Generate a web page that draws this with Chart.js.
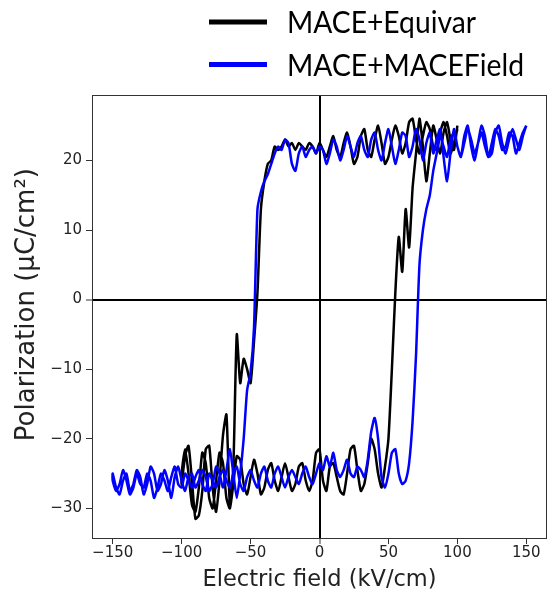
<!DOCTYPE html>
<html>
<head>
<meta charset="utf-8">
<script src="https://cdn.jsdelivr.net/npm/chart.js@4"></script>
<style>
  html, body { margin: 0; padding: 0; background: #fff; }
  #wrap { width: 548px; height: 596px; position: relative; }
</style>
</head>
<body>
<div id="wrap"><canvas id="myChart"></canvas></div>
<script>
// Data

const fieldBlue = [
  -150, -147.5, -145, -142.5, -140, -137.5, -135, -132.5, -130, -127.5,
  -125, -122.5, -120, -117.5, -115, -112.5, -110, -107.5, -105, -102.5,
  -100, -97.5, -95, -92.5, -90, -87.5, -85, -82.5, -80, -77.5,
  -75, -72.5, -70, -67.5, -65, -62.5, -60, -57.5, -55, -52.5,
  -50, -47.5, -45, -42.5, -40, -37.5, -35, -32.5, -30, -27.5,
  -25, -22.5, -20, -17.5, -15, -12.5, -10, -7.5, -5, -2.5,
  0, 2.5, 5, 7.5, 10, 12.5, 15, 17.5, 20, 22.5,
  25, 27.5, 30, 32.5, 35, 37.5, 40, 42.5, 45, 47.5,
  50, 52.5, 55, 57.5, 60, 62.5, 65, 67.5, 70, 72.5,
  75, 77.5, 80, 82.5, 85, 87.5, 90, 92.5, 95, 97.5,
  100, 102.5, 105, 107.5, 110, 112.5, 115, 117.5, 120, 122.5,
  125, 127.5, 130, 132.5, 135, 137.5, 140, 142.5, 145, 147.5,
  150,
];

const fieldBlack = [
  -100, -97.5, -95, -92.5, -90, -87.5, -85, -82.5, -80, -77.5,
  -75, -72.5, -70, -67.5, -65, -62.5, -60, -57.5, -55, -52.5,
  -50, -47.5, -45, -42.5, -40, -37.5, -35, -32.5, -30, -27.5,
  -25, -22.5, -20, -17.5, -15, -12.5, -10, -7.5, -5, -2.5,
  0, 2.5, 5, 7.5, 10, 12.5, 15, 17.5, 20, 22.5,
  25, 27.5, 30, 32.5, 35, 37.5, 40, 42.5, 45, 47.5,
  50, 52.5, 55, 57.5, 60, 62.5, 65, 67.5, 70, 72.5,
  75, 77.5, 80, 82.5, 85, 87.5, 90, 92.5, 95, 97.5,
  100,
];

// MACE+MACEField, field going up (-150 -> 150)
const blueUp = [
  -26.0, -27.5, -26.5, -24.5, -26.0, -28.0, -27.0, -25.0, -26.5, -27.0,
  -25.0, -26.0, -28.5, -27.0, -25.0, -26.0, -27.5, -25.5, -24.0, -26.5,
  -27.0, -25.0, -26.0, -27.0, -25.5, -24.5, -26.5, -27.5, -25.0, -26.0,
  -27.0, -25.5, -24.5, -26.0, -27.0, -25.0, -24.0, -26.5, -27.5, -25.5,
  -24.5, -26.0, -27.0, -25.0, -24.0, -26.0, -27.0, -25.0, -24.0, -25.5,
  -27.0, -25.5, -24.5, -25.5, -26.5, -25.0, -24.0, -25.5, -26.5, -25.0,
  -23.5, -24.5, -22.5, -24.0, -22.0, -24.5, -25.5, -24.5, -23.0, -25.0,
  -25.5, -24.0, -24.5, -25.5, -23.0, -19.0, -17.0, -20.0, -25.5, -27.0,
  -25.0, -22.0, -21.5, -25.0, -26.5, -26.0, -23.5, -17.5, -8.0, 5.0,
  10.0, 13.0, 15.0, 18.5, 21.0, 23.5, 22.0, 20.5, 23.0, 24.0,
  22.0, 20.5, 22.5, 24.5, 23.0, 21.0, 22.5, 24.0, 22.0, 20.5,
  22.5, 24.5, 23.5, 21.5, 22.0, 24.0, 23.5, 21.0, 22.5, 24.0,
  25.0,
];

// MACE+MACEField, field going down (150 -> -150)
const blueDown = [
  25.0, 23.5, 21.5, 23.0, 24.5, 23.0, 21.0, 22.5, 25.0, 24.0,
  21.0, 20.5, 23.5, 25.0, 22.5, 20.0, 22.0, 25.0, 23.5, 20.5,
  22.0, 24.5, 21.0, 17.0, 20.5, 24.5, 23.0, 21.0, 24.0, 22.5,
  20.0, 23.0, 24.5, 22.0, 20.5, 23.5, 24.0, 21.5, 19.5, 22.0,
  24.5, 22.5, 20.0, 21.5, 24.0, 23.0, 20.5, 21.5, 23.5, 22.5,
  20.5, 22.0, 23.5, 21.5, 20.0, 22.0, 23.0, 21.0, 19.5, 21.5,
  22.0, 21.0, 22.0, 21.5, 20.5, 22.0, 21.0, 18.5, 19.5, 22.5,
  23.0, 21.5, 22.0, 21.0, 19.5, 18.0, 17.0, 15.5, 13.0, -4.0,
  -10.5, -13.0, -20.0, -25.0, -28.5, -25.0, -21.5, -24.5, -27.0, -25.0,
  -24.0, -26.5, -27.5, -25.5, -24.5, -26.0, -27.0, -25.0, -25.5, -27.5,
  -26.0, -24.0, -25.5, -28.5, -26.0, -24.5, -26.5, -27.5, -25.0, -24.0,
  -26.5, -28.0, -25.5, -24.5, -26.5, -27.5, -25.0, -26.0, -28.0, -27.0,
  -25.0,
];

// MACE+Equivar, field going up (-100 -> 100)
const blackUp = [
  -25.0, -21.5, -25.0, -29.5, -30.5, -27.0, -22.0, -23.5, -28.5, -30.0,
  -26.0, -22.0, -23.5, -28.5, -30.0, -26.5, -22.5, -23.0, -26.5, -28.0,
  -25.5, -23.0, -25.0, -28.0, -27.0, -24.5, -23.5, -26.0, -27.5, -25.5,
  -23.5, -25.5, -27.5, -26.5, -24.0, -23.5, -26.0, -27.5, -26.0, -22.0,
  -21.5, -26.0, -27.5, -24.0, -23.5, -25.5, -27.5, -28.0, -25.0, -21.5,
  -21.0, -24.5, -27.5, -26.5, -23.5, -20.0, -21.5, -25.0, -27.0, -24.0,
  -20.0, -10.0, 1.0, 9.0, 4.0, 13.0, 7.5, 16.0, 21.0, 26.0,
  22.0, 17.0, 21.0, 25.0, 23.0, 21.0, 24.0, 25.5, 23.0, 21.5,
  25.0,
];

// MACE+Equivar, field going down (100 -> -100)
const blackDown = [
  24.5, 22.5, 21.0, 23.5, 25.5, 24.0, 21.5, 22.0, 24.5, 25.5,
  23.5, 21.0, 23.0, 26.0, 25.5, 22.5, 21.0, 23.5, 25.0, 23.0,
  20.5, 19.5, 22.5, 25.0, 23.0, 20.5, 21.5, 24.5, 23.5, 20.5,
  19.5, 22.0, 24.0, 22.5, 20.5, 21.5, 23.5, 22.0, 20.5, 21.5,
  22.5, 21.0, 22.0, 22.5, 21.5, 22.0, 22.5, 21.5, 22.5, 22.0,
  23.0, 22.0, 21.5, 22.0, 20.0, 19.5, 17.0, 13.0, 1.0, -6.0,
  -12.0, -10.0, -8.5, -12.0, -5.0, -24.0, -29.5, -16.5, -19.5, -26.0,
  -30.5, -27.0, -21.0, -21.5, -27.5, -31.0, -31.5, -26.0, -21.0, -22.5,
  -26.5,
];

const xTicks = [-150, -100, -50, 0, 50, 100, 150];
const yTicks = [-30, -20, -10, 0, 10, 20];

const seriesLabels = ["MACE+Equivar", "MACE+MACEField"];
const seriesColors = ["#000000", "#0000ff"];

// Build the loop: down branch then up branch
function loop(field, down, up) {
  const pts = [];
  const rev = field.slice().reverse();
  for (let i = 0; i < rev.length; i++) pts.push({ x: rev[i], y: down[i] });
  for (let i = 0; i < field.length; i++) pts.push({ x: field[i], y: up[i] });
  return pts;
}

// Plugins

const frame = {
  id: "frame",
  afterDatasetsDraw(chart) {
    const a = chart.chartArea;
    const ctx = chart.ctx;
    ctx.save();
    ctx.strokeStyle = "#333";
    ctx.lineWidth = 1;
    ctx.strokeRect(a.left + 0.5, a.top + 0.5, a.right - a.left - 1, a.bottom - a.top - 1);
    ctx.restore();
  },
};

const legendWidths = [189, 237];

const topLegend = {
  id: "topLegend",
  afterDraw(chart) {
    const ctx = chart.ctx;
    ctx.save();
    chart.data.datasets.forEach((ds, i) => {
      const y = 22 + i * 42.5;
      ctx.strokeStyle = ds.borderColor;
      ctx.lineWidth = 5;
      ctx.beginPath();
      ctx.moveTo(209, y);
      ctx.lineTo(267, y);
      ctx.stroke();
      ctx.fillStyle = "#000";
      ctx.font = "31px Lato";
      ctx.textBaseline = "alphabetic";
      ctx.fillText(ds.label, 287, y + 11, legendWidths[i]);
    });
    ctx.restore();
  },
};

const minus = (v) => String(v).replace("-", "\u2212");

new Chart(document.getElementById("myChart"), {
  type: "scatter",
  data: {
    datasets: [
      {
        label: seriesLabels[0],
        data: loop(fieldBlack, blackDown, blackUp),
        borderColor: seriesColors[0],
        backgroundColor: seriesColors[0],
        borderWidth: 2.5,
        tension: 0.2,
        showLine: true,
        pointRadius: 0,
        order: 1,
      },
      {
        label: seriesLabels[1],
        data: loop(fieldBlue, blueDown, blueUp),
        borderColor: seriesColors[1],
        backgroundColor: seriesColors[1],
        borderWidth: 2.5,
        tension: 0.2,
        showLine: true,
        pointRadius: 0,
        order: 0,
      },
    ],
  },
  options: {
    responsive: true,
    maintainAspectRatio: false,
    animation: false,
    layout: { padding: { top: 95, right: 1, left: 0, bottom: 0 } },
    plugins: { legend: { display: false }, tooltip: { enabled: false } },
    scales: {
      x: {
        type: "linear",
        min: -165,
        max: 165,
        afterFit: (s) => { s.height = 57; },
        afterBuildTicks: (s) => { s.ticks = xTicks.map((v) => ({ value: v })); },
        border: { display: false },
        grid: {
          color: (c) => (c.tick && c.tick.value === 0 ? "#000" : "rgba(0,0,0,0)"),
          lineWidth: (c) => (c.tick && c.tick.value === 0 ? 2 : 1),
          tickColor: "#333",
          tickWidth: 1,
          tickLength: 5,
        },
        ticks: {
          padding: 0,
          color: "#222",
          font: { family: "DejaVu Sans", size: 15 },
          callback: minus,
        },
        title: {
          display: true,
          text: "Electric field (kV/cm)",
          color: "#222",
          font: { family: "DejaVu Sans", size: 22.5 },
          padding: { top: 0, bottom: 2 },
        },
      },
      y: {
        type: "linear",
        min: -34.4,
        max: 29.4,
        afterFit: (s) => { s.width = 92; },
        afterBuildTicks: (s) => { s.ticks = yTicks.map((v) => ({ value: v })); },
        border: { display: false },
        grid: {
          color: (c) => (c.tick && c.tick.value === 0 ? "#000" : "rgba(0,0,0,0)"),
          lineWidth: (c) => (c.tick && c.tick.value === 0 ? 2 : 1),
          tickColor: "#333",
          tickWidth: 1,
          tickLength: 6,
        },
        ticks: {
          padding: 4,
          color: "#222",
          font: { family: "DejaVu Sans", size: 15 },
          callback: minus,
        },
        title: {
          display: true,
          // leading spaces nudge the label up a little, as in the original
          text: "   Polarization (\u03bcC/cm\u00b2)",
          color: "#222",
          font: { family: "DejaVu Sans", size: 26 },
          padding: { top: 12, bottom: 0 },
        },
      },
    },
  },
  plugins: [frame, topLegend],
});
</script>
</body>
</html>
